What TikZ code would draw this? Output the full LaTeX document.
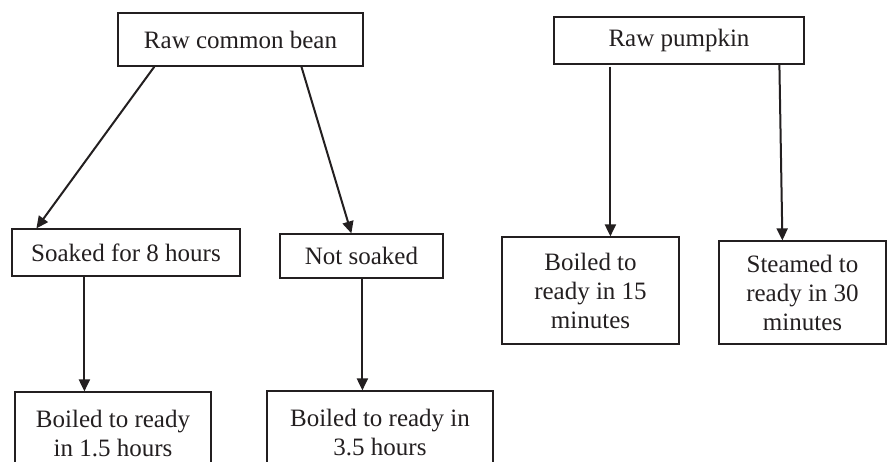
\documentclass[tikz,border=0pt]{standalone}
\usepackage{fontspec}
\setmainfont{Liberation Serif}
\usetikzlibrary{arrows.meta,calc}
\definecolor{ink}{HTML}{231F20}
\begin{document}
\begin{tikzpicture}[x=1pt,y=-1pt,
  box/.style={draw=ink,line width=1.2pt,rectangle,inner sep=0pt,align=center,text=ink,
    font=\fontsize{25}{29}\selectfont},
  arr/.style={draw=ink,line width=2pt,-{Triangle[length=12pt,width=11pt]}}]
\useasboundingbox (0,0) rectangle (887,462);
\clip (0,0) rectangle (887,462);
\fill[white] (0,0) rectangle (887,462);
\node[box,minimum width=245pt,minimum height=53pt] (bean) at (240.5,39.5) {Raw common bean};
\node[box,minimum width=250pt,minimum height=47pt] (pump) at (679,40.5) {Raw pumpkin};
\node[box,minimum width=228pt,minimum height=47pt] (soak) at (126,252.5) {Soaked for 8 hours};
\node[box,minimum width=163pt,minimum height=44pt] (nsoak) at (361.5,256) {Not soaked};
\node[box,minimum width=177pt,minimum height=107pt] (b15) at (590.5,290.5) {Boiled to\\ready in 15\\minutes};
\node[box,minimum width=167pt,minimum height=103pt] (st30) at (802.5,292.5) {Steamed to\\ready in 30\\minutes};
\node[box,minimum width=196pt,minimum height=84pt] (b15h) at (113,434) {Boiled to ready\\in 1.5 hours};
\node[box,minimum width=226pt,minimum height=84pt] (b35h) at (380,433) {Boiled to ready in\\3.5 hours};
\draw[arr] ($(bean.south west)+(37,0)$) -- ($(soak.north west)+(25,0)$);
\draw[arr] ($(bean.south west)+(184,0)$) -- ($(nsoak.north west)+(72,0)$);
\draw[arr] ($(soak.south west)+(73,0)$) -- ($(b15h.north west)+(70,0)$);
\draw[arr] ($(nsoak.south west)+(83,0)$) -- ($(b35h.north west)+(96,0)$);
\draw[arr] ($(pump.south west)+(57,2)$) -- ($(b15.north west)+(109,0)$);
\draw[arr] ($(pump.south west)+(226,0)$) -- ($(st30.north west)+(64,0)$);
\end{tikzpicture}
\end{document}
